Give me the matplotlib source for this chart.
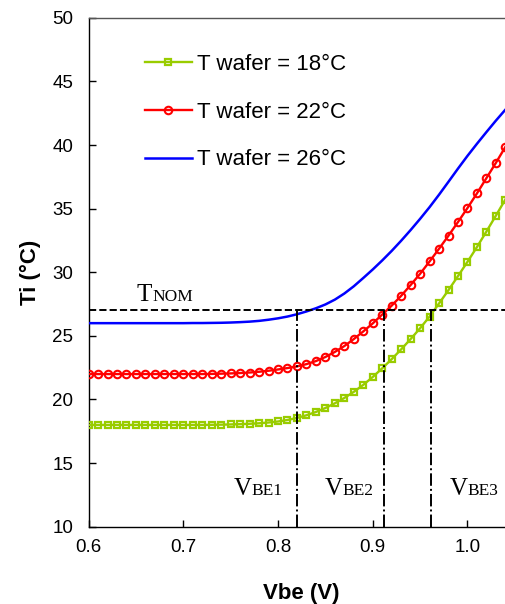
import matplotlib
matplotlib.use('Agg')
import matplotlib.pyplot as plt

# Vbe sweep (V)
vbe = [0.60, 0.61, 0.62, 0.63, 0.64, 0.65, 0.66, 0.67, 0.68, 0.69,
       0.70, 0.71, 0.72, 0.73, 0.74, 0.75, 0.76, 0.77, 0.78, 0.79,
       0.80, 0.81, 0.82, 0.83, 0.84, 0.85, 0.86, 0.87, 0.88, 0.89,
       0.90, 0.91, 0.92, 0.93, 0.94, 0.95, 0.96, 0.97, 0.98, 0.99,
       1.00, 1.01, 1.02, 1.03, 1.04, 1.05]

# Ti (degC) for each wafer temperature
ti_18 = [18.0, 18.0, 18.0, 18.0, 18.0, 18.0, 18.0, 18.0, 18.0, 18.0,
         18.0, 18.0, 18.0, 18.01, 18.02, 18.04, 18.06, 18.09, 18.13, 18.19,
         18.27, 18.39, 18.55, 18.76, 19.02, 19.33, 19.70, 20.12, 20.60, 21.15,
         21.77, 22.45, 23.17, 23.94, 24.75, 25.60, 26.52, 27.55, 28.60, 29.70,
         30.82, 31.98, 33.20, 34.45, 35.72, 37.00]
ti_22 = [22.0, 22.0, 22.0, 22.0, 22.0, 22.0, 22.0, 22.0, 22.0, 22.0,
         22.0, 22.0, 22.0, 22.01, 22.03, 22.05, 22.08, 22.12, 22.18, 22.26,
         22.36, 22.47, 22.60, 22.78, 23.02, 23.34, 23.74, 24.20, 24.75, 25.35,
         25.98, 26.68, 27.38, 28.15, 29.00, 29.88, 30.85, 31.85, 32.88, 33.95,
         35.05, 36.20, 37.40, 38.60, 39.85, 41.10]
ti_26 = [26.0, 26.0, 26.0, 26.0, 26.0, 26.0, 26.0, 26.0, 26.0, 26.0,
         26.0, 26.01, 26.01, 26.02, 26.03, 26.05, 26.08, 26.12, 26.18, 26.27,
         26.38, 26.52, 26.70, 26.92, 27.17, 27.47, 27.85, 28.33, 28.90, 29.55,
         30.22, 30.93, 31.68, 32.48, 33.32, 34.20, 35.12, 36.10, 37.12, 38.15,
         39.15, 40.10, 41.02, 41.92, 42.78, 43.60]

t_nom = 27
vbe_marks = [0.82, 0.912, 0.961]
vbe_names = ['1', '2', '3']
vbe_text_x = [0.7535, 0.8496, 0.9816]

plt.rcParams['font.family'] = ['Liberation Sans', 'DejaVu Sans']

fig = plt.figure(figsize=(5.06, 6.04), dpi=100)
ax = fig.add_axes([0.1751, 0.128, 0.8423, 0.8424])

green = '#99CC00'
ax.plot(vbe, ti_18, color=green, lw=1.7, marker='s', ms=5.0,
        mfc='none', mec=green, mew=1.6, label='T wafer = 18°C', zorder=3)
ax.plot(vbe, ti_22, color='#FF0000', lw=1.7, marker='o', ms=5.4,
        mfc='none', mec='#FF0000', mew=1.5, label='T wafer = 22°C', zorder=3)
ax.plot(vbe, ti_26, color='#0000FF', lw=1.8, label='T wafer = 26°C', zorder=3)

# nominal temperature and the Vbe crossings
ax.axhline(t_nom, color='black', lw=1.4, ls='--', zorder=4)
for xv in vbe_marks:
    ax.plot([xv, xv], [10, t_nom], color='black', lw=1.4, ls='-.', zorder=4)

serif = ['Liberation Serif', 'DejaVu Serif']
ax.text(0.651, 27.74, 'T', fontsize=18, family=serif, va='baseline')
ax.annotate('NOM', xy=(0.651, 27.74), xytext=(11, 0), textcoords='offset points',
            fontsize=12.5, family=serif, va='baseline')
for xt, nm in zip(vbe_text_x, vbe_names):
    ax.text(xt, 12.5, 'V', fontsize=18, family=serif, va='baseline')
    ax.annotate('BE' + nm, xy=(xt, 12.5), xytext=(12.5, 0),
                textcoords='offset points', fontsize=12.5, family=serif,
                va='baseline')

ax.set_xlim(0.6, 1.05)
ax.set_ylim(10, 50)
ax.set_xticks([0.6, 0.7, 0.8, 0.9, 1.0])
ax.set_xticklabels(['0.6', '0.7', '0.8', '0.9', '1.0'])
ax.set_yticks([10, 15, 20, 25, 30, 35, 40, 45, 50])
ax.tick_params(direction='in', length=5, width=1, labelsize=13.5)
ax.tick_params(axis='y', pad=11)
ax.tick_params(axis='x', pad=9)
for s in ax.spines.values():
    s.set_linewidth(1)
ax.spines['top'].set_color('#555555')

ax.set_xlabel('Vbe (V)', fontsize=16, fontweight='bold', labelpad=19)
ax.set_ylabel('Ti (°C)', fontsize=16, fontweight='bold', labelpad=8)

ax.legend(loc='upper left', bbox_to_anchor=(0.132, 0.929), frameon=False,
          fontsize=16, handlelength=2.1, handletextpad=0.25, labelspacing=1.2,
          borderpad=0, borderaxespad=0, numpoints=1)

fig.savefig('out.png', dpi=100)
plt.close(fig)
